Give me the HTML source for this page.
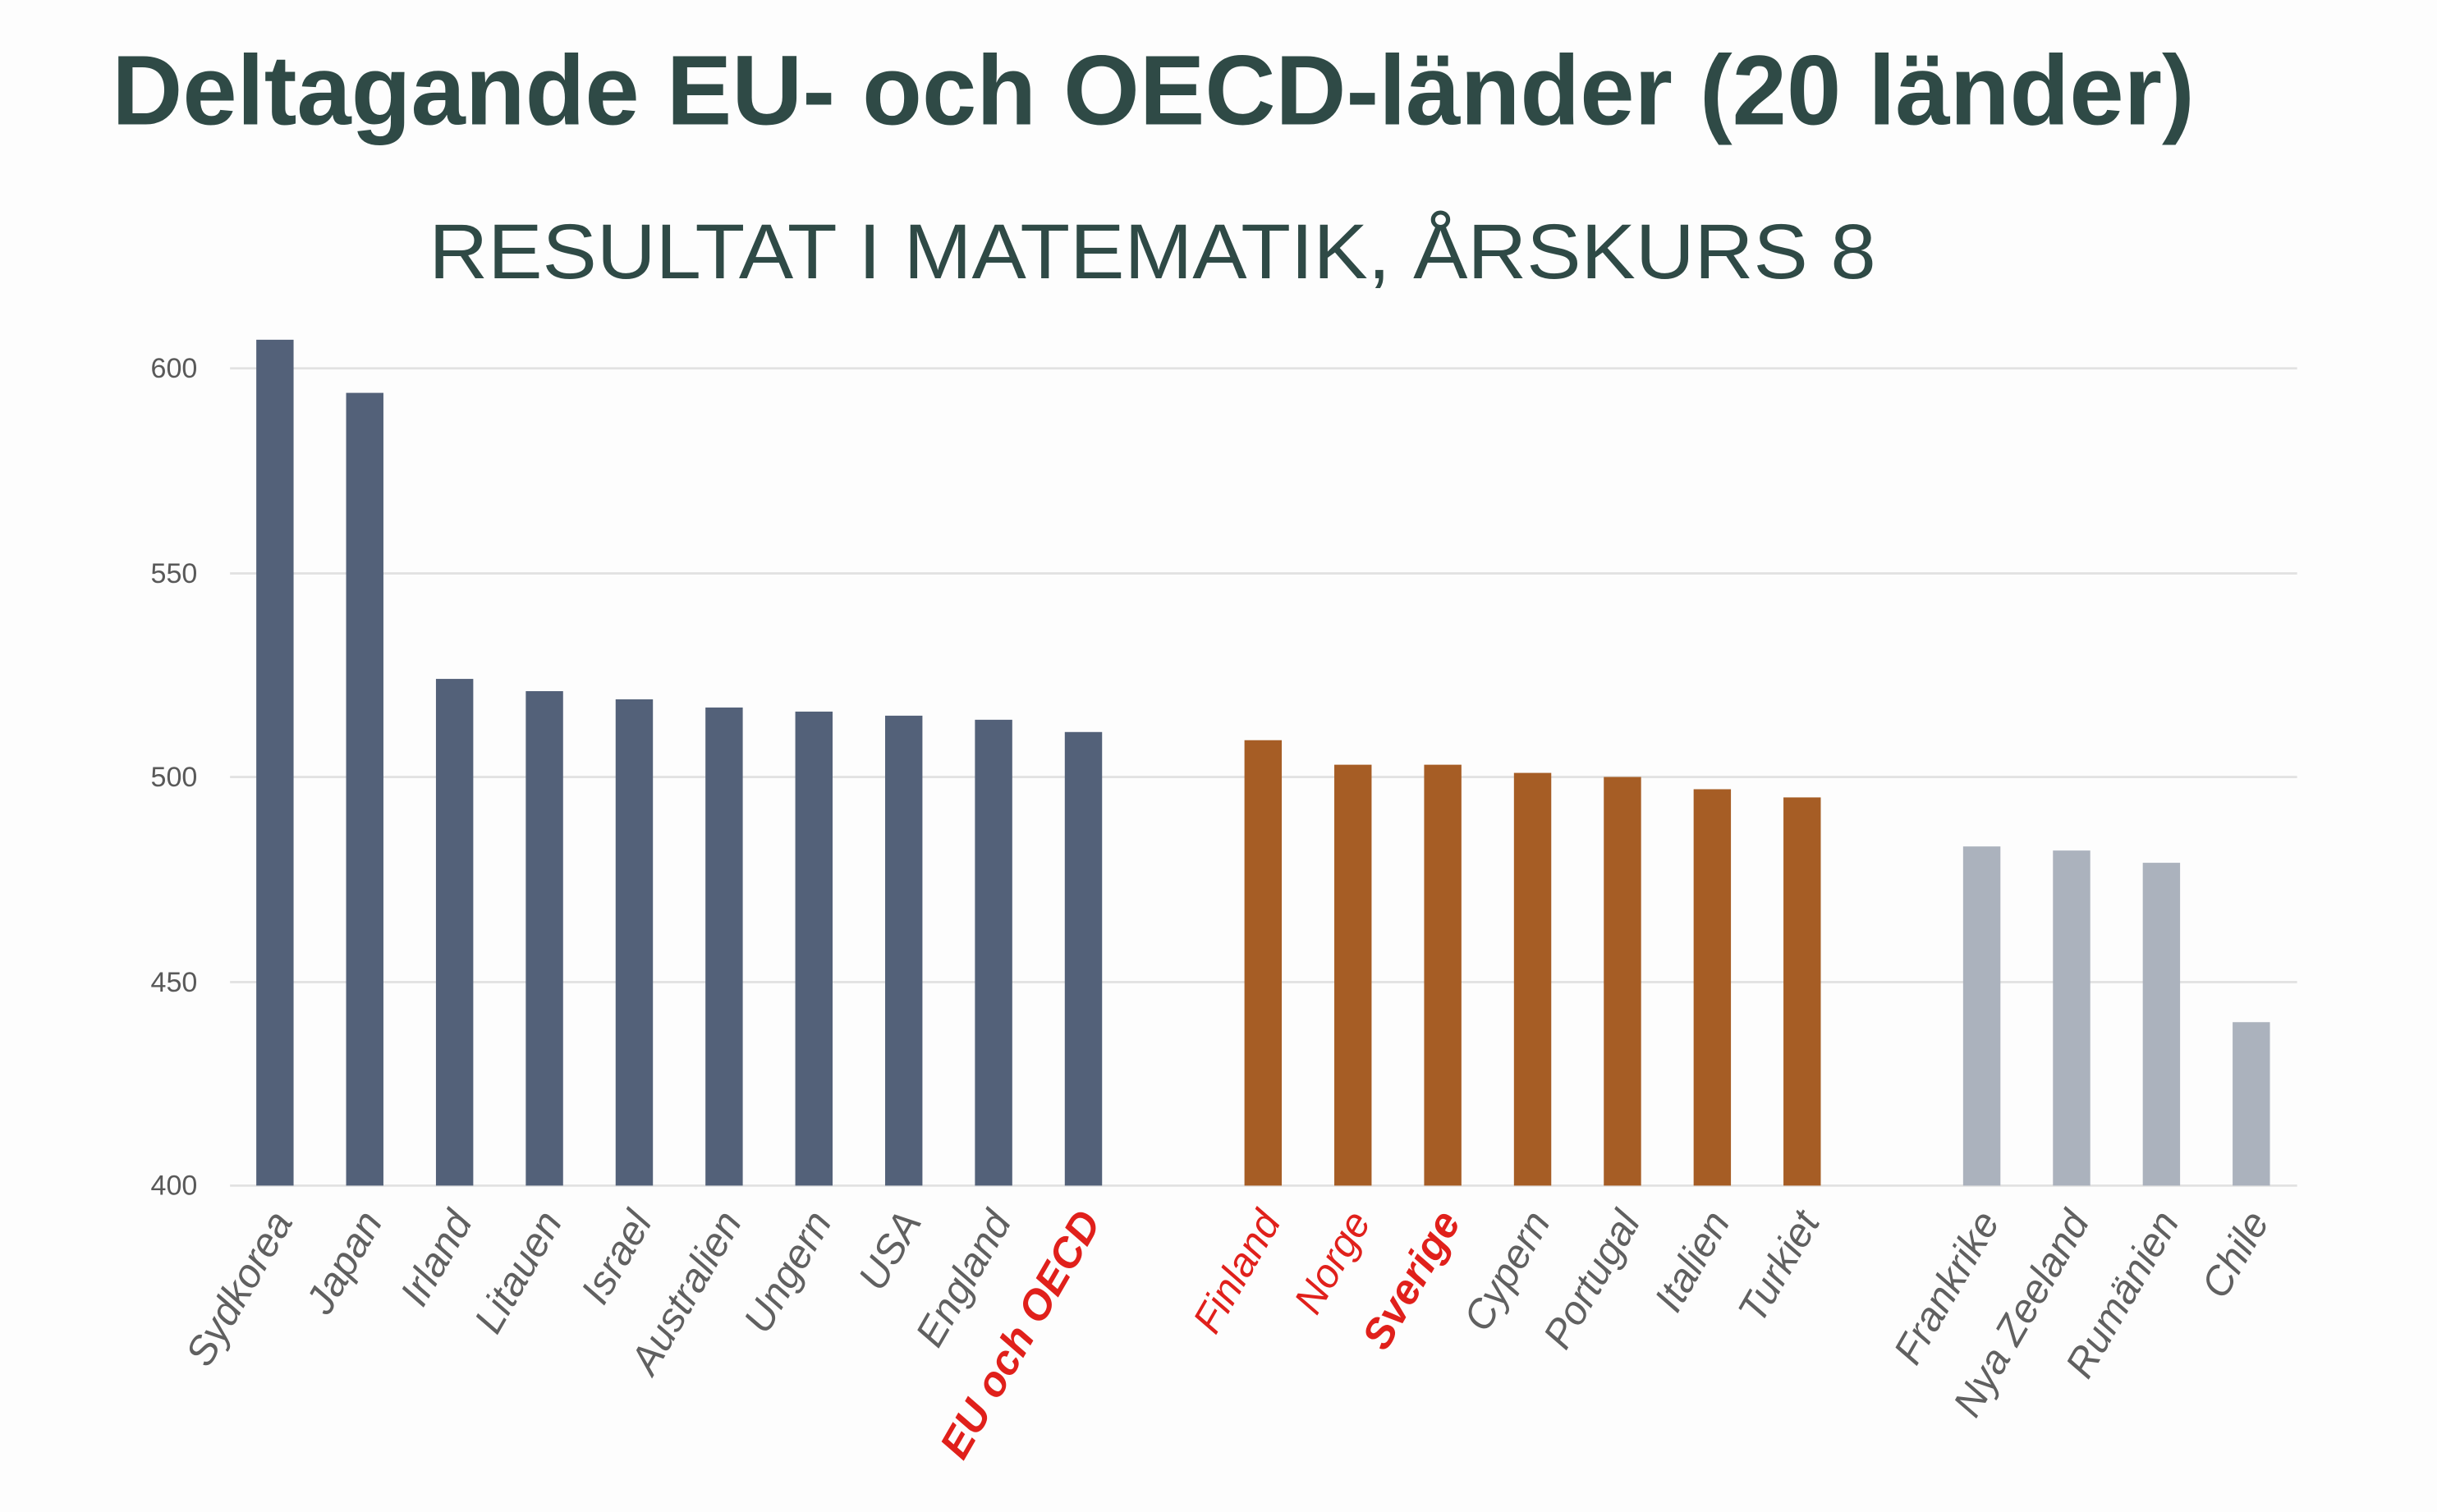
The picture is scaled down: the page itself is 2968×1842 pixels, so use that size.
<!DOCTYPE html>
<html><head><meta charset="utf-8"><style>
html,body{margin:0;padding:0;background:#fdfdfd;}
svg{display:block;}
</style></head><body>
<svg width="2968" height="1842" viewBox="0 0 1568 973" xmlns="http://www.w3.org/2000/svg">
<rect width="1568" height="973" fill="#fdfdfd"/>
<text x="72" y="80" font-family="Liberation Sans, sans-serif" font-weight="bold" font-size="64" fill="#2f4a46" textLength="1340" lengthAdjust="spacingAndGlyphs">Deltagande EU- och OECD-länder (20 länder)</text>
<text x="276" y="179" font-family="Liberation Sans, sans-serif" font-size="50" fill="#2f4a46" textLength="931" lengthAdjust="spacingAndGlyphs">RESULTAT I MATEMATIK, ÅRSKURS 8</text>
<g stroke="#e2e2e2" stroke-width="1.5">
<line x1="148" y1="237" x2="1478" y2="237"/>
<line x1="148" y1="369" x2="1478" y2="369"/>
<line x1="148" y1="500" x2="1478" y2="500"/>
<line x1="148" y1="632" x2="1478" y2="632"/>
<line x1="148" y1="763" x2="1478" y2="763"/>
</g>
<g font-family="Liberation Sans, sans-serif" font-size="18" fill="#595959" text-anchor="end">
<text x="127" y="243">600</text>
<text x="127" y="375">550</text>
<text x="127" y="506">500</text>
<text x="127" y="638">450</text>
<text x="127" y="769">400</text>
</g>
<g id="bars"></g>
<g id="labels" font-family="Liberation Sans, sans-serif" font-size="26" font-style="italic" text-anchor="end"></g>
<script>
var d=[["Sydkorea",607,0,"a"],["Japan",594,1,"a"],["Irland",524,2,"a"],["Litauen",521,3,"a"],["Israel",519,4,"a"],["Australien",517,5,"a"],["Ungern",516,6,"a"],["USA",515,7,"a"],["England",514,8,"a"],["EU och OECD",511,9,"a","rb"],
["Finland",509,11,"b","r"],["Norge",503,12,"b","r"],["Sverige",503,13,"b","rb"],["Cypern",501,14,"b"],["Portugal",500,15,"b"],["Italien",497,16,"b"],["Turkiet",495,17,"b"],
["Frankrike",483,19,"c"],["Nya Zeeland",482,20,"c"],["Rumänien",479,21,"c"],["Chile",440,22,"c"]];
var col={a:"#536179",b:"#a65d25",c:"#abb2bd"};
var ns="http://www.w3.org/2000/svg",B=document.getElementById("bars"),L=document.getElementById("labels");
d.forEach(function(e){var cx=148+(e[2]+0.5)*57.8;var y=763-(e[1]-400)*2.63;
var r=document.createElementNS(ns,"rect");r.setAttribute("x",cx-12);r.setAttribute("y",y);r.setAttribute("width",24);r.setAttribute("height",763-y);r.setAttribute("fill",col[e[3]]);B.appendChild(r);
var t=document.createElementNS(ns,"text");var tx=cx+12,ty=786;t.setAttribute("transform","translate("+tx+","+ty+") rotate(-60)");t.textContent=e[0];
t.setAttribute("fill",e[4]?"#e0201b":"#606060");if(e[4]=="rb"){t.setAttribute("font-weight","bold");t.setAttribute("font-size","27");}L.appendChild(t);});
</script>
</svg>
</body></html>
